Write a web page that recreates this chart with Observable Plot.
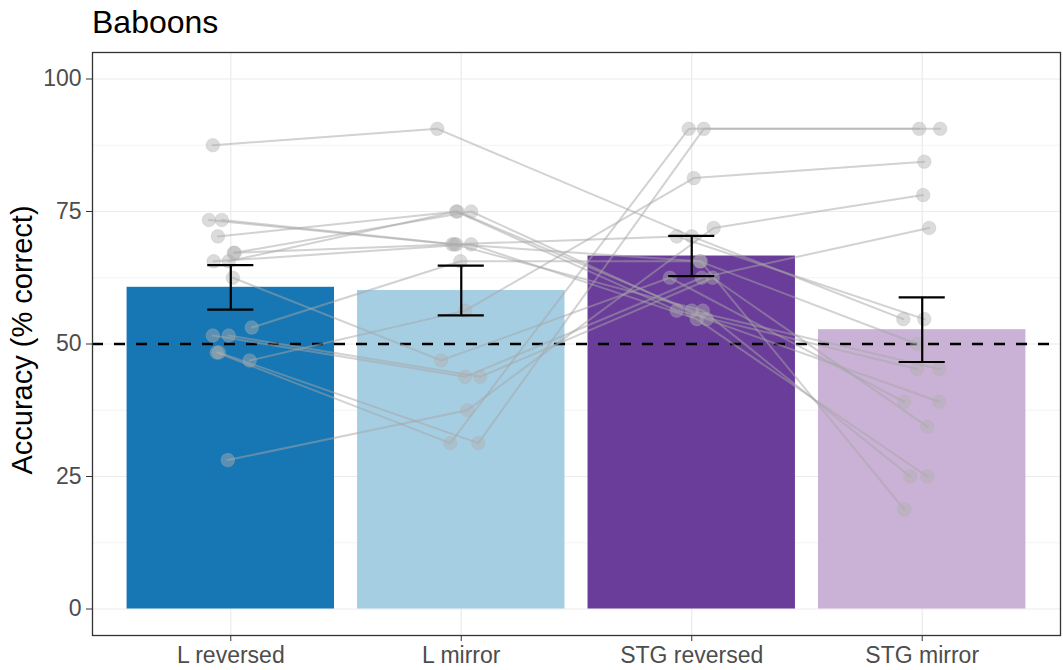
<!DOCTYPE html>
<html>
<head>
<meta charset="utf-8">
<script src="https://cdn.jsdelivr.net/npm/d3@7"></script>
<script src="https://cdn.jsdelivr.net/npm/@observablehq/plot@0.6"></script>
<style>
  body { margin: 0; background: #fff; font-family: "Liberation Sans", Arial, sans-serif; }
  #title { height: 44px; box-sizing: border-box; padding: 6px 0 0 92px; font-size: 32px; line-height: 32px; color: #000; }
  #chart svg { display: block; }
</style>
</head>
<body>
<div id="title">Baboons</div>
<div id="chart"></div>
<script>
// Conditions along the x axis
const conditions = ["L reversed", "L mirror", "STG reversed", "STG mirror"];
const barColors = ["#1777b4", "#a6cee3", "#6a3d9a", "#cab2d6"];

// Group summary: mean accuracy and standard error per condition (% correct)
const meanAccuracy = [60.7, 60.1, 66.6, 52.7];
const standardError = [4.2, 4.7, 3.8, 6.1];

// Individual baboons (same order in every condition), % correct
const lReversed   = [87.5, 70.3, 65.6, 73.4, 73.4, 67.2, 67.2, 65.6, 62.5, 53.1, 51.6, 51.6, 48.4, 48.4, 46.9, 28.1];
const lMirror     = [90.6, 75.0, 75.0, 68.8, 68.8, 68.8, 75.0, 68.8, 46.9, 65.6, 43.8, 43.8, 31.3, 31.3, 56.3, 37.5];
const stgReversed = [70.3, 56.3, 56.3, 70.3, 56.3, 65.6, 54.7, 54.7, 62.5, 65.6, 62.5, 62.5, 90.6, 90.6, 81.3, 71.9];
const stgMirror   = [54.7, 45.3, 45.3, 54.7, 25.0, 50.0, 39.1, 25.0, 39.1, 18.8, 71.9, 34.4, 90.6, 90.6, 84.4, 78.1];

// Horizontal jitter of each individual point, in category widths
const jitterLReversed   = [-0.078, -0.056, -0.009, -0.095, -0.039, 0.013, 0.017, -0.074, 0.009, 0.091, -0.078, -0.009, -0.061, -0.052, 0.082, -0.013];
const jitterLMirror     = [-0.104, -0.017, -0.022, -0.039, -0.030, -0.022, 0.043, 0.043, -0.087, -0.004, 0.017, 0.082, -0.048, 0.074, 0.017, 0.026];
const jitterStgReversed = [0, 0, -0.065, -0.065, 0.048, 0.035, 0.065, 0.022, -0.095, 0.039, 0.043, 0.091, -0.013, 0.052, 0.009, 0.095];
const jitterStgMirror   = [-0.082, 0.074, -0.022, 0.009, -0.052, -0.022, 0.074, 0.022, -0.078, -0.078, 0.030, 0.022, 0.078, -0.013, 0.009, 0.004];

const chance = 50;

// Long-format tables built from the arrays above
const summary = conditions.map((c, k) => ({
  condition: c, pos: k + 1, mean: meanAccuracy[k], se: standardError[k]
}));

const seriesValues = [lReversed, lMirror, stgReversed, stgMirror];
const seriesJitter = [jitterLReversed, jitterLMirror, jitterStgReversed, jitterStgMirror];
const individuals = [];
lReversed.forEach((_, s) => {
  conditions.forEach((c, k) => {
    individuals.push({ subject: s, condition: c, pos: k + 1, jitter: seriesJitter[k][s], accuracy: seriesValues[k][s] });
  });
});

const font = "Liberation Sans, Arial, sans-serif";

const chart = Plot.plot({
  width: 1063,
  height: 626,
  marginLeft: 92,
  marginRight: 3,
  marginTop: 8,
  marginBottom: 35,
  style: { fontFamily: font, fontSize: "23px", background: "#fff", overflow: "visible" },
  x: { domain: [0.4, 4.6], axis: null },
  y: { domain: [-5, 105], axis: null },
  color: { domain: conditions, range: barColors },
  marks: [
    // panel grid (major and minor)
    Plot.gridY([12.5, 37.5, 62.5, 87.5], { stroke: "#ebebeb", strokeOpacity: 1, strokeWidth: 0.6 }),
    Plot.gridY([0, 25, 50, 75, 100], { stroke: "#ebebeb", strokeOpacity: 1, strokeWidth: 1.2 }),
    Plot.gridX([1, 2, 3, 4], { stroke: "#ebebeb", strokeOpacity: 1, strokeWidth: 1.2 }),
    // mean accuracy bars
    Plot.rectY(summary, {
      x1: d => d.pos - 0.45, x2: d => d.pos + 0.45, y: "mean", fill: "condition"
    }),
    // chance level
    Plot.ruleY([chance], { stroke: "#000", strokeWidth: 2.5, strokeDasharray: "11,11" }),
    // each baboon across conditions
    Plot.line(individuals, {
      x: d => d.pos + d.jitter, y: "accuracy", z: "subject",
      stroke: "#a6a6a6", strokeOpacity: 0.5, strokeWidth: 2
    }),
    Plot.dot(individuals, {
      x: d => d.pos + d.jitter, y: "accuracy", r: 6.8,
      fill: "#b0b0b0", fillOpacity: 0.45, stroke: "#b0b0b0", strokeOpacity: 0.35, strokeWidth: 0.8
    }),
    // standard error bars
    Plot.ruleX(summary, {
      x: "pos", y1: d => d.mean - d.se, y2: d => d.mean + d.se, stroke: "#000", strokeWidth: 2.2
    }),
    Plot.ruleY(summary, {
      y: d => d.mean + d.se, x1: d => d.pos - 0.1, x2: d => d.pos + 0.1, stroke: "#000", strokeWidth: 2.2
    }),
    Plot.ruleY(summary, {
      y: d => d.mean - d.se, x1: d => d.pos - 0.1, x2: d => d.pos + 0.1, stroke: "#000", strokeWidth: 2.2
    }),
    // axes
    Plot.axisY({
      ticks: [0, 25, 50, 75, 100], tickSize: 6, tickPadding: 5,
      stroke: "#333", fill: "#4d4d4d", fontSize: 23, label: null
    }),
    Plot.axisX({
      ticks: [1, 2, 3, 4], tickFormat: i => conditions[i - 1], tickSize: 6, tickPadding: 5,
      stroke: "#333", fill: "#4d4d4d", fontSize: 23, label: null
    }),
    Plot.text(["Accuracy (% correct)"], {
      frameAnchor: "left", textAnchor: "middle", dx: -70, dy: -4, rotate: -90, fontSize: 29, fill: "#000"
    }),
    Plot.frame({ stroke: "#333", strokeWidth: 1.3 })
  ]
});

document.getElementById("chart").appendChild(chart);
</script>
</body>
</html>
